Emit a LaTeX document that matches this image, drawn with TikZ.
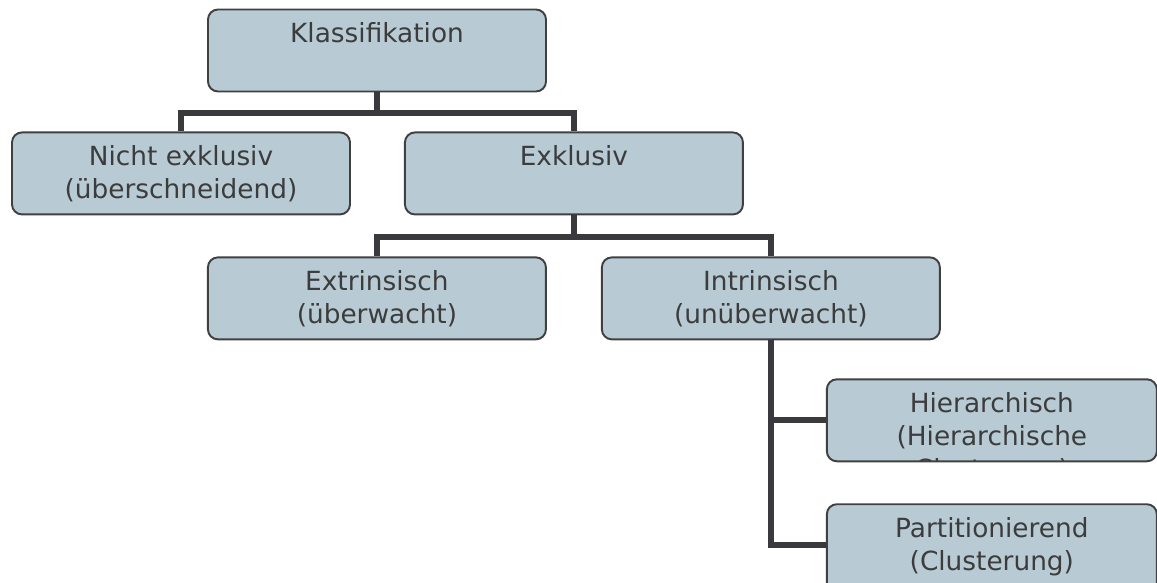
\documentclass[tikz,border=0pt]{standalone}
\usepackage{fontspec}
\setmainfont{DejaVu Sans}
\usetikzlibrary{positioning}
\definecolor{BoxFill}{HTML}{B8CBD5}
\definecolor{BoxLine}{HTML}{404040}
\definecolor{BoxText}{HTML}{3C3C3C}
\definecolor{LinkGray}{HTML}{3A3A3E}

\begin{document}
\begin{tikzpicture}[box/.style={draw=BoxLine,line width=1.1pt,rounded corners=2mm,fill=BoxFill,minimum width=6.76cm,minimum height=1.64cm,inner sep=0pt,path picture={\node[anchor=base,inner sep=0pt,text=BoxText,font=\fontsize{15}{18.8}\selectfont] at ([yshift=-6.6mm]path picture bounding box.north) {\parbox[t]{6.6cm}{\centering #1}};}}, leaf/.style={box={#1},minimum width=6.6cm}, link/.style={draw=LinkGray,line width=3.4pt}]
\useasboundingbox (0,0) rectangle (23.14,11.66);
\node[box={Klassifikation}] (klass) at (7.54,10.65) {};
\node[box={Nicht exklusiv\\(überschneidend)},below=0.78cm of klass,xshift=-3.92cm] (nicht) {};
\node[box={Exklusiv},right=1.06cm of nicht] (exkl) {};
\node[box={Extrinsisch\\(überwacht)},below=0.82cm of exkl,xshift=-3.94cm] (extr) {};
\node[box={Intrinsisch\\(unüberwacht)},right=1.08cm of extr] (intr) {};
\node[leaf={Hierarchisch\\(Hierarchische\\Clusterung)},below=0.76cm of intr,xshift=4.42cm] (hier) {};
\node[leaf={Partitionierend\\(Clusterung)},minimum height=1.8cm,below=0.82cm of hier] (part) {};
\draw[link] (klass.south) -- ++(0,-0.41) coordinate (kbar) -| (nicht.north);
\draw[link] (kbar) -| (exkl.north);
\draw[link] (exkl.south) -- ++(0,-0.43) coordinate (ebar) -| (extr.north);
\draw[link] (ebar) -| (intr.north);
\draw[link] (intr.south) -- ++(0,-4.1) coordinate (ibar) -- (ibar -| part.west);
\draw[link] (hier.west) -| (intr.south);
\end{tikzpicture}
\end{document}
